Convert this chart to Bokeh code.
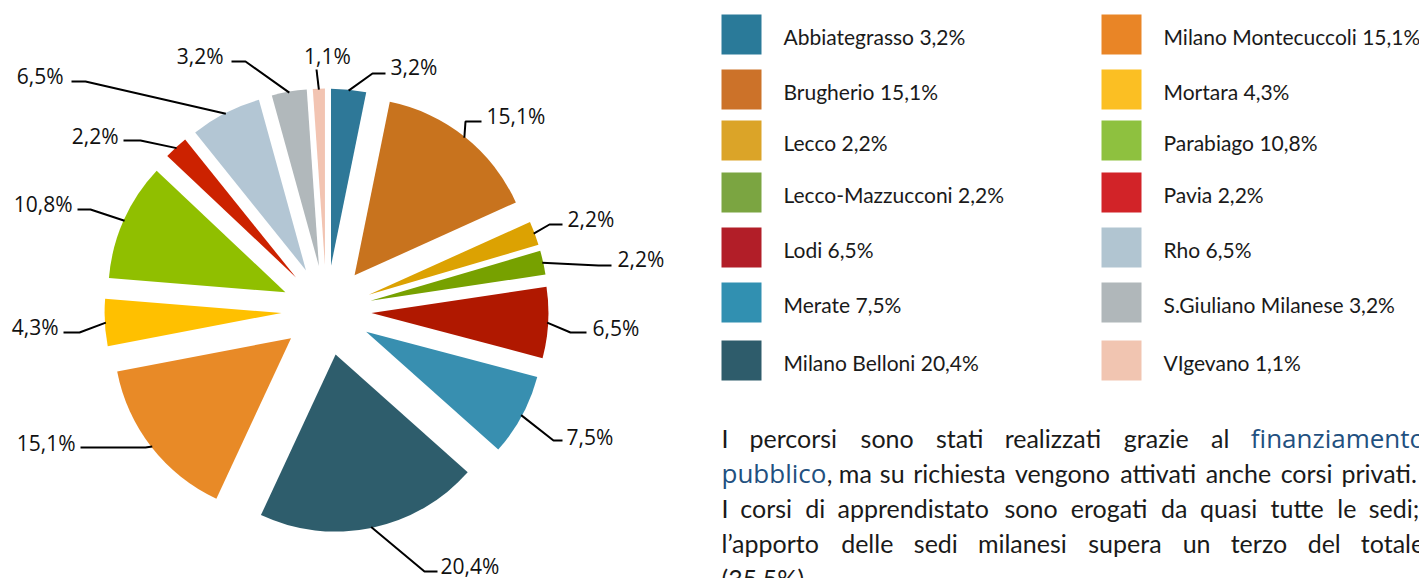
import math
from bokeh.plotting import figure
from bokeh.models import Range1d, ColumnDataSource
from bokeh.core.properties import value
from bokeh.embed import file_html
from bokeh.resources import INLINE

# ---------------- data ----------------
names = ["Abbiategrasso", "Brugherio", "Lecco", "Lecco-Mazzucconi", "Lodi", "Merate",
         "Milano Belloni", "Milano Montecuccoli", "Mortara", "Parabiago", "Pavia", "Rho",
         "S.Giuliano Milanese", "VIgevano"]
values = [3.2, 15.1, 2.2, 2.2, 6.5, 7.5, 20.4, 15.1, 4.3, 10.8, 2.2, 6.5, 3.2, 1.1]
pie_colors = ["#2e7898", "#c8731e", "#dca202", "#77a100", "#b01800", "#388fb0", "#2e5d6c",
              "#e88a27", "#ffc000", "#90bf00", "#cc2200", "#b3c6d4", "#b1b8bb", "#f2c4b2"]
legend_colors = ["#2a7a99", "#cc7229", "#dba428", "#7ba541", "#b21e28", "#3190b1", "#2e5c6b",
                 "#e98526", "#fbbf23", "#8ec13f", "#d22328", "#b1c5d1", "#b0b7ba", "#f1c5b1"]

# label anchors (screen px): x, baseline y, alignment
label_x = [390, 486, 567, 617, 592, 566, 440, 75, 58, 72, 118, 63, 223, 327]
label_y = [74, 123, 226, 266, 335, 444, 573, 450, 334, 211, 143, 83, 63, 63]
label_align = ["left"] * 7 + ["right"] * 6 + ["center"]
# leader elbows / ends (screen px)
elbow = [(372, 73), (465, 121), (549, 224), (598, 265), (570, 332), (553, 440), (424, 571),
         (145, 447), (79, 332), (90, 209), (140, 140), (85, 81), (245, 61), (316, 69)]
lend = [(385, 73), (481, 121), (562, 224), (611, 265), (586, 332), (562, 440), (437, 571),
        (80, 447), (63, 332), (77, 209), (123, 140), (71, 81), (231, 61), (316, 69)]

# paragraph
line1_words = ["I", "percorsi", "sono", "stati", "realizzati", "grazie", "al", "finanziamento"]
line2_words = ["pubblico", ", ma", "su", "richiesta", "vengono", "attivati", "anche", "corsi", "privati."]
line3_words = ["I", "corsi", "di", "apprendistato", "sono", "erogati", "da", "quasi", "tutte", "le", "sedi;"]
line4_words = ["l\u2019apporto", "delle", "sedi", "milanesi", "supera", "un", "terzo", "del", "totale"]
line5_words = ["(35,5%)."]
blue_words = {"finanziamento", "pubblico"}

# ---------------- layout ----------------
W, H = 1419, 578
TXT_SHIFT = 8  # renderer places the text a little low; compensate


def sy(Y):
    return H - Y


def ty_(Y):
    return H - (Y - TXT_SHIFT)


p = figure(width=W, height=H, x_range=Range1d(0, W), y_range=Range1d(0, H),
           output_backend="svg", toolbar_location=None, min_border=0,
           x_axis_type=None, y_axis_type=None, outline_line_color=None,
           background_fill_color="white", border_fill_color="white")
p.grid.visible = False

CX, CY = 326, sy(310)
R = 177
D = 45

total = sum(values)
xs, ys, sa, ea = [], [], [], []
lx, ly = [], []
cum = 0.0
for v in values:
    t1 = 2 * math.pi * cum / total
    cum += v
    t2 = 2 * math.pi * cum / total
    tm = (t1 + t2) / 2
    xs.append(CX + D * math.sin(tm))
    ys.append(CY + D * math.cos(tm))
    sa.append(math.pi / 2 - t2)
    ea.append(math.pi / 2 - t1)
    lx.append(CX + (D + R - 1) * math.sin(tm))
    ly.append(CY + (D + R - 1) * math.cos(tm))

src = ColumnDataSource(dict(x=xs, y=ys, sa=sa, ea=ea, color=pie_colors))
p.wedge(x="x", y="y", radius=R, start_angle="sa", end_angle="ea", fill_color="color",
        line_color=None, source=src)

mx, my = [], []
for i in range(len(values)):
    mx.append([lx[i], elbow[i][0], lend[i][0]])
    my.append([ly[i], sy(elbow[i][1]), sy(lend[i][1])])
p.multi_line(mx, my, line_color="black", line_width=2)


def fmt(v):
    return ("%.1f" % v).replace(".", ",") + "%"


for al in ["left", "right", "center"]:
    idx = [i for i in range(len(values)) if label_align[i] == al]
    p.text(x=[label_x[i] for i in idx], y=[ty_(label_y[i]) for i in idx],
           text=[fmt(values[i]) for i in idx], text_align=al, text_baseline="alphabetic",
           text_font=value("Open Sans"), text_font_size="21px", text_color="#111111")

# legend
col_left = [721, 1101]
row_top = [14, 69, 120, 172, 227, 282, 340]
SQ = 40
ql, qr, qt, qb, qc = [], [], [], [], []
tx, tyy, tt = [], [], []
for i in range(len(values)):
    c, r = divmod(i, 7)
    ql.append(col_left[c]); qr.append(col_left[c] + SQ)
    qt.append(sy(row_top[r])); qb.append(sy(row_top[r] + SQ))
    qc.append(legend_colors[i])
    tx.append(col_left[c] + 62); tyy.append(ty_(row_top[r] + 30))
    tt.append(names[i] + " " + fmt(values[i]))
p.quad(left=ql, right=qr, top=qt, bottom=qb, fill_color=qc, line_color=None)
p.text(x=tx, y=tyy, text=tt, text_font=value("Lato"), text_font_size="21px",
       text_color="#1a1a1a", text_baseline="alphabetic")

# paragraph: approximate advance widths (em) for justification
LATO = {" ": .193, ",": .22, ".": .22, ";": .23, "\u2019": .22, "(": .31, ")": .31, "%": .79,
        "a": .489, "b": .555, "c": .462, "d": .555, "e": .518, "f": .323, "g": .503, "h": .553,
        "i": .231, "l": .231, "m": .832, "n": .553, "o": .558, "p": .549, "q": .555, "r": .361,
        "s": .418, "t": .345, "u": .553, "v": .498, "z": .437, "I": .263}
OPEN = {"f": .344, "i": .258, "n": .613, "a": .556, "z": .468, "m": .929, "e": .561, "t": .347,
        "o": .601, "p": .613, "u": .613, "b": .613, "l": .258, "c": .479}
PS, BS = 25, 26
BLUE = "#22507f"
BLK = "#1a1a1a"


def wid(w):
    if w in blue_words:
        return sum(OPEN.get(ch, .55) for ch in w) * BS
    return sum(LATO.get(ch, .55) for ch in w) * PS * 1.04


def put(words, xs_, yb):
    bk = [(x, w) for x, w in zip(xs_, words) if w not in blue_words]
    bl = [(x, w) for x, w in zip(xs_, words) if w in blue_words]
    if bk:
        p.text(x=[a for a, _ in bk], y=[ty_(yb)] * len(bk), text=[b for _, b in bk],
               text_color=BLK, text_font=value("Lato"), text_font_size="%dpx" % PS,
               text_baseline="alphabetic")
    if bl:
        p.text(x=[a for a, _ in bl], y=[ty_(yb)] * len(bl), text=[b for _, b in bl],
               text_color=BLUE, text_font=value("Open Sans"), text_font_size="%dpx" % BS,
               text_baseline="alphabetic")


def justify(words, x0, x1, yb, glue_first=False):
    ws = [wid(w) for w in words]
    if glue_first:
        # second token sticks to the first (punctuation)
        pos = [x0, x0 + ws[0]]
        rest_w = ws[2:]
        start = pos[1] + ws[1]
        gap = (x1 - start - sum(rest_w)) / len(rest_w)
        x = start + gap
        for w in rest_w:
            pos.append(x)
            x += w + gap
    else:
        gap = (x1 - x0 - sum(ws)) / (len(ws) - 1)
        pos, x = [], x0
        for w in ws:
            pos.append(x)
            x += w + gap
    put(words, pos, yb)


LEFT = 721
base = [445, 480, 515, 550, 585]
justify(line1_words, LEFT, 1425, base[0])
justify(line2_words, LEFT, 1417, base[1], glue_first=True)
justify(line3_words, LEFT, 1419, base[2])
justify(line4_words, LEFT, 1425, base[3])
put(line5_words, [LEFT], base[4])

open("out.html", "w").write(file_html(p, INLINE))
